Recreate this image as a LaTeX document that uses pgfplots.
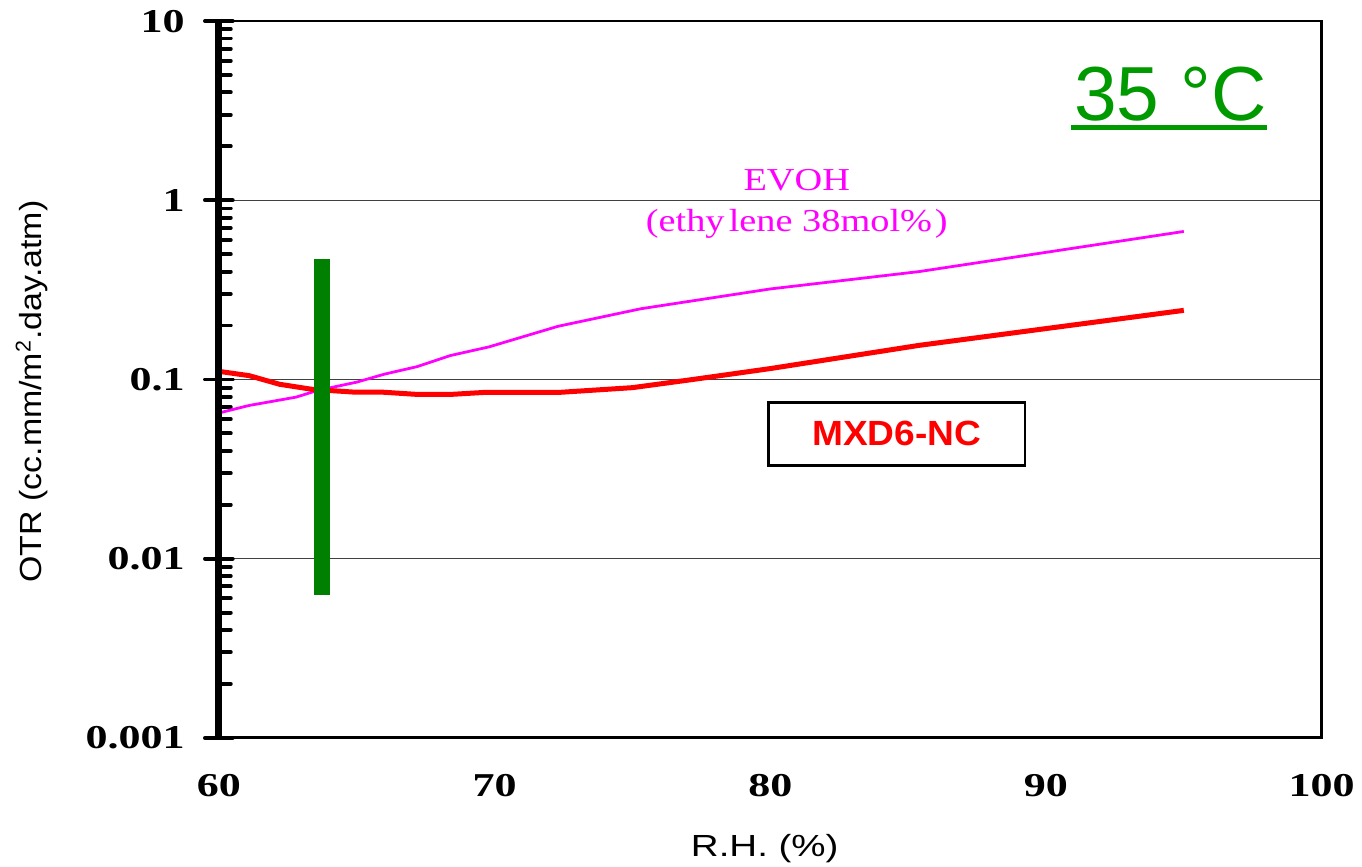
\documentclass[border=0pt]{standalone}
\usepackage{fontspec}
\setmainfont{Liberation Serif}
\setsansfont{Liberation Sans}
\newfontfamily\tickfont[FakeStretch=1.32]{Liberation Serif}
\newfontfamily\xlabfont[FakeStretch=1.26]{Liberation Sans}
\newfontfamily\ylabfont[FakeStretch=1.11]{Liberation Sans}
\newfontfamily\evohfont[FakeStretch=1.2]{Liberation Serif}
\newfontfamily\mxdfont[FakeStretch=1.06]{Liberation Sans}
\usepackage{pgfplots}
\pgfplotsset{compat=1.18}
\definecolor{evoh}{RGB}{255,0,255}
\definecolor{mxd}{RGB}{255,0,0}
\definecolor{bargreen}{RGB}{0,128,0}
\definecolor{tgreen}{RGB}{0,153,0}

\pgfplotstableread{
x y
60.0 0.065
61.1 0.0716
62.8 0.0797
63.6 0.087
65.0 0.0966
66.0 0.107
67.2 0.118
68.4 0.136
69.8 0.152
72.3 0.198
75.3 0.248
80.0 0.320
85.4 0.400
95.0 0.670
}\evohdata

\pgfplotstableread{
x y
60.0 0.111
61.1 0.105
62.2 0.094
63.4 0.088
64.9 0.085
65.9 0.085
67.2 0.0825
68.4 0.0825
69.6 0.0846
72.3 0.0846
75.0 0.0900
77.2 0.1000
80.0 0.1150
85.4 0.1550
95.0 0.2430
}\mxddata

\newcommand{\degC}{35 \char"00B0\relax C}

\begin{document}
\begin{tikzpicture}
\path[use as bounding box] (-78.8pt,-46.4pt) rectangle (411.5pt,265.6pt);
\begin{axis}[
  at={(0,0)}, anchor=south west,
  scale only axis, width=397pt, height=258pt,
  ymode=log, xmin=60, xmax=100, ymin=0.001, ymax=10,
  xtick={60,70,80,90,100}, xticklabels={60,70,80,90,100},
  ytick={0.001,0.01,0.1,1,10}, yticklabels={0.001,0.01,0.1,1,10},
  xtick pos=left, ytick pos=left,
  tick align=center,
  major tick length=10pt,
  minor tick length=4.3pt,
  major x tick style={draw=none},
  major y tick style={line width=1.4pt, line cap=round, black},
  minor y tick style={line width=1.4pt, line cap=round, black, xshift=2.15pt},
  tick label style={font=\tickfont\bfseries\fontsize{12}{14}\selectfont},
  yticklabel style={anchor=east},
  yticklabel shift=3.8pt,
  xticklabel shift=4.8pt,
  ymajorgrids,
  major grid style={black!75, line width=0.45pt},
  axis line style={black, line width=0.8pt},
  xlabel={R.H. (\%)},
  xlabel style={at={(axis description cs:0.495,-0.166)}, anchor=base, font=\xlabfont\fontsize{11}{13}\selectfont},
  ylabel={OTR (cc.mm/m$^{\mathsf{2}}$.day.atm)},
  ylabel style={at={(axis description cs:-0.1695,0.483)}, anchor=center, rotate=0, font=\ylabfont\fontsize{11}{13}\selectfont},
  clip=false,
]
\addplot[evoh, line width=1pt] table[x=x,y=y] {\evohdata};
\addplot[mxd, line width=1.8pt] table[x=x,y=y] {\mxddata};
\addplot[bargreen, line width=5.8pt, line cap=butt] coordinates {(63.73,0.0063) (63.73,0.47)};

\draw[black, line width=2.5pt] (rel axis cs:0,0) -- (rel axis cs:0,1);
\draw[black, line width=1pt] (rel axis cs:0,0) -- (rel axis cs:1,0);
\draw[black, line width=1.1pt] (rel axis cs:1,0) -- (rel axis cs:1,1);
\pgfplotsinvokeforeach{70,80,90}{
  \draw[black, line width=1pt] (axis cs:#1,0.001) ++(0,-2.8pt) -- ++(0,5.6pt);
}

\node[evoh, font=\evohfont\fontsize{11.5}{13}\selectfont, anchor=base] at (axis description cs:0.524,0.763) {EVOH};
\node[evoh, font=\evohfont\fontsize{11.5}{13}\selectfont, anchor=base] at (axis description cs:0.524,0.706) {(ethy\hspace{1.5pt}lene 38mol\%\hspace{1pt})};
\node[draw=black, line width=0.9pt, fill=white, minimum width=92.5pt, minimum height=22.7pt, text=mxd, font=\mxdfont\bfseries\fontsize{12.6}{14}\selectfont] at (axis description cs:0.6147,0.424) {MXD6-NC};
\node[tgreen, inner sep=0pt, anchor=base, font=\sffamily\fontsize{27.6}{30}\selectfont] (temp) at (axis description cs:0.863,0.862) {\degC};
\draw[tgreen, line width=1.8pt] ([yshift=-2.6pt,xshift=-1pt]temp.base west) -- ([yshift=-2.6pt]temp.base east);
\end{axis}
\end{tikzpicture}
\end{document}
